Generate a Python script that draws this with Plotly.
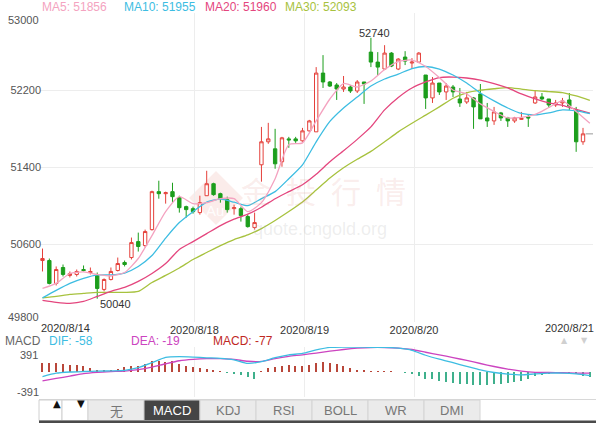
import plotly.graph_objects as go

W, H = 596, 423

# ---------------- data ----------------
candle_x = list(range(80))
open_ = [50435, 50435, 50198, 50363, 50281, 50291, 50342, 50311, 50281, 50136,
         50239, 50332, 50415, 50466, 50631, 50590, 50755, 51148, 51127, 51148,
         51086, 50993, 50972, 50931, 51106, 51230, 51127, 51065, 50972, 50972,
         50890, 50776, 51426, 51664, 51591, 51457, 51694, 51694, 51674, 51777,
         51767, 52375, 52283, 52252, 52210, 52231, 52190, 52283, 52592, 52489,
         52417, 52582, 52417, 52541, 52479, 52489, 52355, 52118, 52272, 52180,
         52231, 52107, 52076, 52118, 52159, 51911, 51880, 51963, 51911, 51880,
         51896, 51922, 52066, 52128, 52107, 52045, 52066, 52097, 51994, 51664]
high = [50559, 50456, 50374, 50394, 50322, 50342, 50384, 50363, 50311, 50250,
        50363, 50466, 50435, 50673, 50724, 50755, 51158, 51261, 51148, 51240,
        51106, 51003, 50993, 51106, 51364, 51240, 51137, 51096, 51013, 50993,
        50910, 50931, 51818, 51860, 51798, 51715, 51715, 51715, 51808, 51891,
        52437, 52561, 52293, 52272, 52345, 52252, 52303, 52283, 52740, 52592,
        52664, 52592, 52530, 52602, 52530, 52592, 52355, 52334, 52272, 52272,
        52252, 52221, 52180, 52128, 52262, 52066, 52025, 51973, 51922, 51922,
        51973, 51942, 52200, 52169, 52107, 52097, 52118, 52169, 52025, 51808]
low = [50322, 50188, 50177, 50270, 50260, 50270, 50322, 50291, 50040, 50116,
       50229, 50322, 50374, 50446, 50528, 50570, 50745, 51075, 51024, 51034,
       50931, 50879, 50920, 50910, 51106, 51106, 51034, 50931, 50910, 50838,
       50776, 50755, 51251, 51643, 51385, 51406, 51602, 51653, 51664, 51767,
       51767, 52221, 52231, 52097, 52180, 52169, 52169, 52056, 52437, 52355,
       52406, 52437, 52406, 52458, 52417, 52479, 52004, 52066, 52149, 52097,
       52128, 52025, 52056, 51798, 51901, 51818, 51839, 51880, 51818, 51860,
       51891, 51818, 52056, 52097, 52014, 52025, 52025, 51994, 51560, 51633]
close = [50456, 50198, 50342, 50291, 50301, 50322, 50332, 50322, 50146, 50239,
         50322, 50404, 50394, 50621, 50580, 50735, 51148, 51127, 51137, 51096,
         50982, 50962, 50941, 51034, 51230, 51117, 51075, 50962, 50982, 50900,
         50786, 50828, 51664, 51694, 51436, 51705, 51684, 51674, 51777, 51880,
         52375, 52283, 52241, 52210, 52231, 52190, 52283, 52262, 52489, 52437,
         52582, 52448, 52520, 52499, 52489, 52582, 52118, 52272, 52180, 52241,
         52180, 52066, 52118, 52025, 51901, 51880, 51973, 51911, 51880, 51911,
         51906, 51911, 52128, 52107, 52045, 52066, 52087, 52035, 51664, 51746]
last_x = [80]
last_price = [51746]

ma_x = list(range(0, 81, 2))
ma5 = [50146, 50198, 50301, 50317, 50291, 50275, 50311, 50456, 50693, 50941,
       51096, 51024, 51034, 51075, 51075, 50941, 51034, 51282, 51633, 51653,
       51880, 52107, 52267, 52231, 52293, 52412, 52494, 52510, 52443, 52329,
       52200, 52159, 52056, 51978, 51911, 51916, 51947, 52019, 52087, 51978, 51856]
ma10 = [50048, 50126, 50198, 50250, 50286, 50286, 50306, 50374, 50487, 50667,
        50828, 50941, 51039, 51070, 51039, 51003, 51075, 51148, 51282, 51426,
        51664, 51875, 52014, 52128, 52241, 52314, 52365, 52422, 52443, 52417,
        52355, 52272, 52169, 52087, 52014, 51957, 51942, 51963, 51994, 51983, 51955]
ma20 = [50022, 50002, 49992, 50012, 50064, 50116, 50157, 50219, 50301, 50404,
        50549, 50631, 50714, 50797, 50864, 50915, 50987, 51075, 51148, 51220,
        51328, 51457, 51571, 51689, 51818, 51994, 52123, 52221, 52283, 52329,
        52334, 52324, 52303, 52267, 52221, 52159, 52107, 52066, 52040, 51999, 51960]
ma30 = [50048, 50064, 50084, 50095, 50105, 50105, 50105, 50116, 50208, 50281,
        50358, 50446, 50518, 50590, 50652, 50700, 50766, 50850, 50942, 51041,
        51164, 51289, 51396, 51483, 51565, 51664, 51767, 51856, 51940, 52025,
        52115, 52171, 52198, 52213, 52225, 52210, 52194, 52184, 52173, 52138, 52093]

dif = [-72, -18, 0, 8, 14, 18, 26, 67, 145, 228,
       240, 233, 222, 214, 190, 135, 161, 223, 268, 290,
       345, 385, 391, 390, 386, 386, 372, 340, 262, 200,
       145, 88, 32, -8, -32, -45, -30, -18, -17, -30, -58]
dea = [-138, -101, -64, -24, -5, 6, 14, 37, 77, 129,
       176, 199, 210, 208, 197, 168, 165, 210, 245, 268,
       296, 326, 352, 372, 383, 383, 374, 352, 309, 268,
       225, 181, 133, 86, 46, 15, -5, -8, -12, -17, -19]
hist_x = list(range(81))
hist = [148, 138, 138, 128, 112, 107, 87, 61, 36, 26,
        26, 46, 72, 87, 97, 122, 173, 173, 163, 179,
        128, 87, 72, 56, 46, 26, 10, -10, -20, -41,
        -77, -107, 2, 61, 77, 97, 102, 97, 87, 112,
        148, 163, 148, 122, 97, 61, 36, 20, 10, 10,
        5, 2, 0, -15, -31, -56, -107, -117, -143, -158,
        -168, -184, -194, -209, -209, -209, -194, -184, -168, -158,
        -143, -117, -66, -41, -26, -15, -15, -15, -26, -66, -77]

date_ticks = [22.2, 38.3, 54.3]
date_text = ["2020/8/18", "2020/8/19", "2020/8/20"]
edge_dates = ["2020/8/14", "2020/8/21"]
price_ticks = [50600, 51400, 52200]
price_top, price_bottom = 53000, 49800
macd_limit = 391

ma_labels = ["MA5: 51856", "MA10: 51955", "MA20: 51960", "MA30: 52093"]
macd_labels = ["DIF: -58", "DEA: -19", "MACD: -77"]
tabs = ["无", "MACD", "KDJ", "RSI", "BOLL", "WR", "DMI"]

# ---------------- styles ----------------
C_MA5, C_MA10, C_MA20, C_MA30 = "#f4a3c0", "#3dbde2", "#e4467e", "#a7c23e"
C_UP, C_DOWN = "#e5403b", "#1c9e1c"
C_DIF, C_DEA = "#3dbde2", "#cc44c0"
GRID = "#ededed"
FONT = "Arial, Liberation Sans, sans-serif"


def px(x):
    return x / W


def py(y):
    return 1 - y / H


fig = go.Figure()

# Moving averages
for vals, col in [(ma30, C_MA30), (ma20, C_MA20), (ma10, C_MA10), (ma5, C_MA5)]:
    fig.add_trace(go.Scatter(x=ma_x, y=vals, mode="lines", line=dict(color=col, width=1.3, shape="spline", smoothing=0.6),
                             hoverinfo="skip", xaxis="x", yaxis="y"))

fig.add_trace(go.Candlestick(
    x=candle_x, open=open_, high=high, low=low, close=close,
    increasing=dict(line=dict(color=C_UP, width=1), fillcolor="#ffffff"),
    decreasing=dict(line=dict(color=C_DOWN, width=1), fillcolor=C_DOWN),
    whiskerwidth=0, hoverinfo="skip", xaxis="x", yaxis="y"))

fig.add_trace(go.Scatter(x=last_x, y=last_price, mode="markers",
                         marker=dict(symbol="line-ew", size=6, line=dict(color="#999999", width=1)),
                         hoverinfo="skip", xaxis="x", yaxis="y"))

# MACD panel
fig.add_trace(go.Bar(x=hist_x, y=hist, width=0.2,
                     marker=dict(color=["#b9473a" if v >= 0 else "#3fb08c" for v in hist], line=dict(width=0)),
                     hoverinfo="skip", xaxis="x2", yaxis="y2"))
fig.add_trace(go.Scatter(x=ma_x, y=dea, mode="lines", line=dict(color=C_DEA, width=1.3, shape="spline", smoothing=0.6),
                         hoverinfo="skip", xaxis="x2", yaxis="y2"))
fig.add_trace(go.Scatter(x=ma_x, y=dif, mode="lines", line=dict(color=C_DIF, width=1.3, shape="spline", smoothing=0.6),
                         hoverinfo="skip", xaxis="x2", yaxis="y2"))

x_dom = [px(40), px(593)]
xr = [-0.365, 80.46]

fig.update_layout(
    width=W, height=H, margin=dict(l=0, r=0, t=0, b=0),
    paper_bgcolor="white", plot_bgcolor="rgba(0,0,0,0)",
    showlegend=False, hovermode=False, bargap=0,
    font=dict(family=FONT, size=11, color="#444"),
    xaxis=dict(domain=x_dom, range=xr, anchor="y", tickvals=date_ticks, ticktext=date_text,
               showgrid=True, gridcolor=GRID, gridwidth=1, zeroline=False, showline=False, ticks="",
               tickfont=dict(size=11, color="#333"), rangeslider=dict(visible=False), fixedrange=True),
    yaxis=dict(domain=[py(321.9), py(12.7)], range=[price_bottom, price_top], anchor="x",
               tickvals=price_ticks, ticktext=[str(v) for v in price_ticks],
               showgrid=True, gridcolor=GRID, zeroline=False, showline=False, ticks="",
               tickfont=dict(size=11, color="#555"), ticklabelstandoff=-2, fixedrange=True),
    xaxis2=dict(domain=x_dom, range=xr, anchor="y2", matches="x", tickvals=date_ticks,
                showticklabels=False, showgrid=True, gridcolor=GRID, zeroline=False, showline=False, ticks=""),
    yaxis2=dict(domain=[py(397), py(347)], range=[-macd_limit, macd_limit], anchor="x2",
                tickvals=[macd_limit], showticklabels=False, showgrid=True, gridcolor=GRID,
                zeroline=False, showline=False, ticks=""),
)

ann = []
shapes = []

# watermark
shapes.append(dict(type="path", xref="paper", yref="paper",
                   path=f"M {px(216)} {py(171)} L {px(243)} {py(198)} L {px(216)} {py(225)} L {px(189)} {py(198)} Z",
                   fillcolor="rgba(235,160,150,0.2)", line=dict(width=0), layer="below"))
ann.append(dict(text="Au", x=px(215), y=py(211), xref="paper", yref="paper", showarrow=False, borderpad=0,
                font=dict(size=15, color="rgba(255,255,255,0.9)", family=FONT)))
ann.append(dict(text="金\u2002投\u2002行\u2002情", x=px(323), y=py(190), xref="paper", yref="paper", showarrow=False,
                borderpad=0, font=dict(size=30, color="rgba(225,150,140,0.18)", family="Noto Sans CJK SC")))
ann.append(dict(text="quote.cngold.org", x=px(320), y=py(229), xref="paper", yref="paper", showarrow=False,
                borderpad=0, font=dict(size=18, color="rgba(180,180,180,0.22)", family=FONT)))

# top MA legend
for txt, col, x0 in zip(ma_labels, [C_MA5, C_MA10, C_MA20, C_MA30], [40, 122, 203, 283]):
    ann.append(dict(text=txt, x=px(x0), y=py(7), xref="paper", yref="paper", xanchor="left", yanchor="middle",
                    showarrow=False, font=dict(size=12, color=col, family=FONT)))

# edge price labels
ann.append(dict(text=str(price_top), x=px(41), y=price_top, xref="paper", yref="y", xanchor="right",
                yanchor="middle", yshift=-7, showarrow=False, font=dict(size=11, color="#555", family=FONT)))
ann.append(dict(text=str(price_bottom), x=px(41), y=price_bottom, xref="paper", yref="y", xanchor="right",
                yanchor="middle", yshift=5, showarrow=False, font=dict(size=11, color="#555", family=FONT)))

# edge date labels
ann.append(dict(text=edge_dates[0], x=px(40), y=py(328), xref="paper", yref="paper", xanchor="left",
                yanchor="middle", showarrow=False, borderpad=0, font=dict(size=11, color="#333", family=FONT)))
ann.append(dict(text=edge_dates[1], x=px(595), y=py(328), xref="paper", yref="paper", xanchor="right",
                yanchor="middle", showarrow=False, borderpad=0, font=dict(size=11, color="#333", family=FONT)))

# extreme labels
i_hi = high.index(max(high))
i_lo = low.index(min(low))
ann.append(dict(text=str(max(high)), x=i_hi, y=max(high), xref="x", yref="y", showarrow=False,
                xshift=4, yshift=5, yanchor="middle", font=dict(size=11, color="#333", family=FONT)))
ann.append(dict(text=str(min(low)), x=i_lo, y=min(low), xref="x", yref="y", showarrow=False,
                xshift=18, yshift=-5, yanchor="middle", font=dict(size=11, color="#333", family=FONT)))

# MACD legend row
ann.append(dict(text="MACD", x=px(4), y=py(340.5), xref="paper", yref="paper", xanchor="left", yanchor="middle",
                showarrow=False, borderpad=0, font=dict(size=12, color="#666", family=FONT)))
for txt, col, x0 in zip(macd_labels, [C_DIF, C_DEA, "#c0281f"], [48, 130, 212]):
    ann.append(dict(text=txt, x=px(x0), y=py(340.5), xref="paper", yref="paper", xanchor="left", yanchor="middle",
                    showarrow=False, borderpad=0, font=dict(size=12, color=col, family=FONT)))
for sym, x0 in [("▲", 569), ("▼", 589)]:
    ann.append(dict(text=sym, x=px(x0), y=py(346), xref="paper", yref="paper", showarrow=False, borderpad=0,
                    font=dict(size=8, color="#d0d0d0", family="DejaVu Sans")))

# MACD axis labels
ann.append(dict(text=str(macd_limit), x=px(39), y=py(355), xref="paper", yref="paper", xanchor="right",
                yanchor="middle", showarrow=False, borderpad=0, font=dict(size=11, color="#555", family=FONT)))
ann.append(dict(text=str(-macd_limit), x=px(40), y=py(392), xref="paper", yref="paper", xanchor="right",
                yanchor="middle", showarrow=False, borderpad=0, font=dict(size=11, color="#555", family=FONT)))

# bottom tab bar
ty0, ty1 = 400, 420.5
shapes.append(dict(type="line", xref="paper", yref="paper", x0=px(39), x1=px(596), y0=py(399.5), y1=py(399.5),
                   line=dict(color="#d8d8d8", width=1), layer="below"))
for x0, x1, sym in [(39, 62, "▲"), (62, 88, "▼")]:
    shapes.append(dict(type="rect", xref="paper", yref="paper", x0=px(x0), x1=px(x1), y0=py(ty1), y1=py(ty0),
                       fillcolor="#ffffff", line=dict(color="#d0d0d0", width=1), layer="below"))
    ann.append(dict(text=sym, x=px((x0 + x1) / 2), y=py(410.5), xref="paper", yref="paper", showarrow=False,
                    font=dict(size=10, color="#111", family="DejaVu Sans")))
for k, name in enumerate(tabs):
    x0 = 88 + 56 * k
    x1 = x0 + 56
    active = name == "MACD"
    shapes.append(dict(type="rect", xref="paper", yref="paper", x0=px(x0), x1=px(x1), y0=py(ty1), y1=py(ty0),
                       fillcolor="#454545" if active else "#ebebeb", line=dict(color="#d4d4d4", width=1),
                       layer="below"))
    ann.append(dict(text=name, x=px((x0 + x1) / 2), y=py(410.5), xref="paper", yref="paper", showarrow=False,
                    xanchor="center", yanchor="middle",
                    font=dict(size=13, color="#ffffff" if active else "#777777",
                              family="Noto Sans CJK SC" if name == "无" else FONT)))
shapes.append(dict(type="rect", xref="paper", yref="paper", x0=px(39), x1=px(596), y0=py(423), y1=py(420.5),
                   fillcolor="#4a4a4a", line=dict(width=0), layer="below"))

fig.update_layout(annotations=ann, shapes=shapes)

fig.write_html("out.html", config={"displayModeBar": False},
               post_script="document.body.style.margin='0px';document.body.style.overflow='hidden';")
